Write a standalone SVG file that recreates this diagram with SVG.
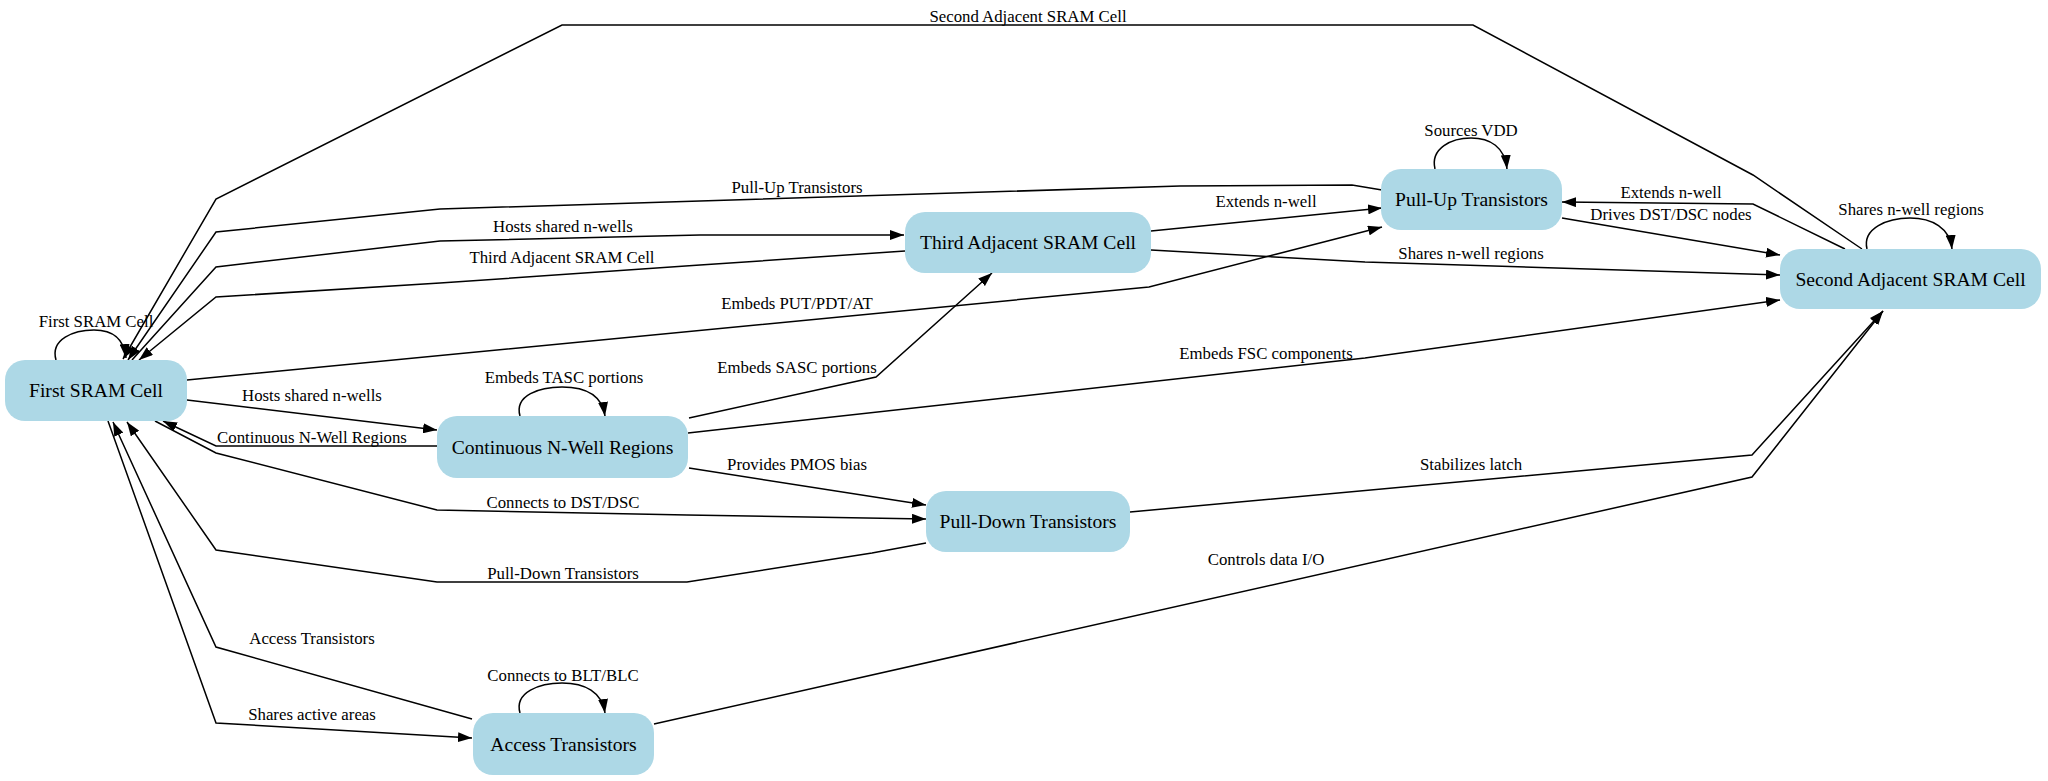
<svg xmlns="http://www.w3.org/2000/svg" width="2048" height="781" viewBox="0 0 2048 781">
  <defs>
    <marker id="arrow" markerWidth="14" markerHeight="10" refX="14" refY="5" orient="auto" markerUnits="userSpaceOnUse">
      <path d="M0,0 L14,5 L0,10 z" fill="#000"/>
    </marker>
    <style>
      .node rect { fill: #add8e6; stroke: none; }
      .node text { font-family: "Liberation Serif", "Times New Roman", serif; font-size: 19.6px; text-anchor: middle; fill: #000; }
      .edge path, .edge polyline { fill: none; stroke: #000; stroke-width: 1.5; marker-end: url(#arrow); }
      .edge text { font-family: "Liberation Serif", "Times New Roman", serif; font-size: 16.8px; text-anchor: middle; fill: #000; }
    </style>
  </defs>
  <rect width="2048" height="781" fill="#fff"/>

  <!-- connectors -->
  <g id="edges">
    <g class="edge" id="e-first-self">
      <path d="M56,360 C50,339 74,330 94,330 C112,330 124,338 126,358"/>
      <text x="96" y="327">First SRAM Cell</text>
    </g>
    <g class="edge" id="e-first-third">
      <polyline points="132,360 216,267 440,241 700,235 904,235"/>
      <text x="563" y="232">Hosts shared n-wells</text>
    </g>
    <g class="edge" id="e-third-first">
      <polyline points="905,251 700,265 440,283 216,297 139,360"/>
      <text x="562" y="263">Third Adjacent SRAM Cell</text>
    </g>
    <g class="edge" id="e-second-first">
      <polyline points="1862,249 1753,175 1473,25 562,25 216,199 123,359"/>
      <text x="1028" y="22">Second Adjacent SRAM Cell</text>
    </g>
    <g class="edge" id="e-pullup-first">
      <polyline points="1382,190 1352,185 1180,186 700,201 440,209 216,232 128,360"/>
      <text x="797" y="193">Pull-Up Transistors</text>
    </g>
    <g class="edge" id="e-first-pullup">
      <polyline points="187,380 1149,287 1382,227"/>
      <text x="797" y="309">Embeds PUT/PDT/AT</text>
    </g>
    <g class="edge" id="e-first-cnw">
      <polyline points="187,400 437,430"/>
      <text x="312" y="401">Hosts shared n-wells</text>
    </g>
    <g class="edge" id="e-cnw-self">
      <path d="M520,416 C514,395 540,387 562,387 C585,387 602,395 605,416"/>
      <text x="564" y="383">Embeds TASC portions</text>
    </g>
    <g class="edge" id="e-cnw-first">
      <polyline points="437,446 216,446 163,421"/>
      <text x="312" y="443">Continuous N-Well Regions</text>
    </g>
    <g class="edge" id="e-first-pulldown">
      <polyline points="155,421 216,453 437,510 687,515 926,519"/>
      <text x="563" y="508">Connects to DST/DSC</text>
    </g>
    <g class="edge" id="e-pulldown-first">
      <polyline points="926,543 872,553 687,582 437,582 216,550 127,422"/>
      <text x="563" y="579">Pull-Down Transistors</text>
    </g>
    <g class="edge" id="e-access-first">
      <polyline points="472,719 216,647 113,422"/>
      <text x="312" y="644">Access Transistors</text>
    </g>
    <g class="edge" id="e-first-access">
      <polyline points="108,421 216,723 472,738"/>
      <text x="312" y="720">Shares active areas</text>
    </g>
    <g class="edge" id="e-access-self">
      <path d="M520,713 C514,692 540,683 562,683 C585,683 602,692 605,713"/>
      <text x="563" y="681">Connects to BLT/BLC</text>
    </g>
    <g class="edge" id="e-cnw-third">
      <polyline points="689,418 876,377 992,273"/>
      <text x="797" y="373">Embeds SASC portions</text>
    </g>
    <g class="edge" id="e-cnw-second">
      <polyline points="688,433 1365,358 1780,300"/>
      <text x="1266" y="359">Embeds FSC components</text>
    </g>
    <g class="edge" id="e-cnw-pulldown">
      <polyline points="689,468 926,505"/>
      <text x="797" y="470">Provides PMOS bias</text>
    </g>
    <g class="edge" id="e-pulldown-second">
      <polyline points="1130,512 1752,455 1883,311"/>
      <text x="1471" y="470">Stabilizes latch</text>
    </g>
    <g class="edge" id="e-access-second">
      <polyline points="654,724 1752,477 1883,311"/>
      <text x="1266" y="565">Controls data I/O</text>
    </g>
    <g class="edge" id="e-third-pullup">
      <polyline points="1151,231 1382,208"/>
      <text x="1266" y="207">Extends n-well</text>
    </g>
    <g class="edge" id="e-third-second">
      <polyline points="1151,250 1365,262 1780,275"/>
      <text x="1471" y="259">Shares n-well regions</text>
    </g>
    <g class="edge" id="e-pullup-self">
      <path d="M1435,169 C1430,148 1452,138 1471,138 C1490,138 1505,147 1507,169"/>
      <text x="1471" y="136">Sources VDD</text>
    </g>
    <g class="edge" id="e-pullup-second">
      <polyline points="1562,218 1780,255"/>
      <text x="1671" y="220">Drives DST/DSC nodes</text>
    </g>
    <g class="edge" id="e-second-pullup">
      <polyline points="1845,249 1753,204 1562,202"/>
      <text x="1671" y="198">Extends n-well</text>
    </g>
    <g class="edge" id="e-second-self">
      <path d="M1867,249 C1862,228 1888,218 1910,218 C1932,218 1950,228 1952,249"/>
      <text x="1911" y="215">Shares n-well regions</text>
    </g>
  </g>

  <!-- nodes -->
  <g class="node" id="first-sram-cell">
    <rect x="5" y="360" width="182" height="61" rx="20" ry="20"/>
    <text x="96" y="397">First SRAM Cell</text>
  </g>
  <g class="node" id="continuous-n-well-regions">
    <rect x="437" y="416" width="251" height="62" rx="20" ry="20"/>
    <text x="562.5" y="453.5">Continuous N-Well Regions</text>
  </g>
  <g class="node" id="access-transistors">
    <rect x="473" y="713" width="181" height="62" rx="20" ry="20"/>
    <text x="563.5" y="750.5">Access Transistors</text>
  </g>
  <g class="node" id="pull-down-transistors">
    <rect x="926" y="491" width="204" height="61" rx="20" ry="20"/>
    <text x="1028" y="528">Pull-Down Transistors</text>
  </g>
  <g class="node" id="third-adjacent-sram-cell">
    <rect x="905" y="212" width="246" height="61" rx="20" ry="20"/>
    <text x="1028" y="249">Third Adjacent SRAM Cell</text>
  </g>
  <g class="node" id="pull-up-transistors">
    <rect x="1381" y="169" width="181" height="61" rx="20" ry="20"/>
    <text x="1471.5" y="206">Pull-Up Transistors</text>
  </g>
  <g class="node" id="second-adjacent-sram-cell">
    <rect x="1780" y="249" width="261" height="60" rx="20" ry="20"/>
    <text x="1910.5" y="285.5">Second Adjacent SRAM Cell</text>
  </g>
</svg>
